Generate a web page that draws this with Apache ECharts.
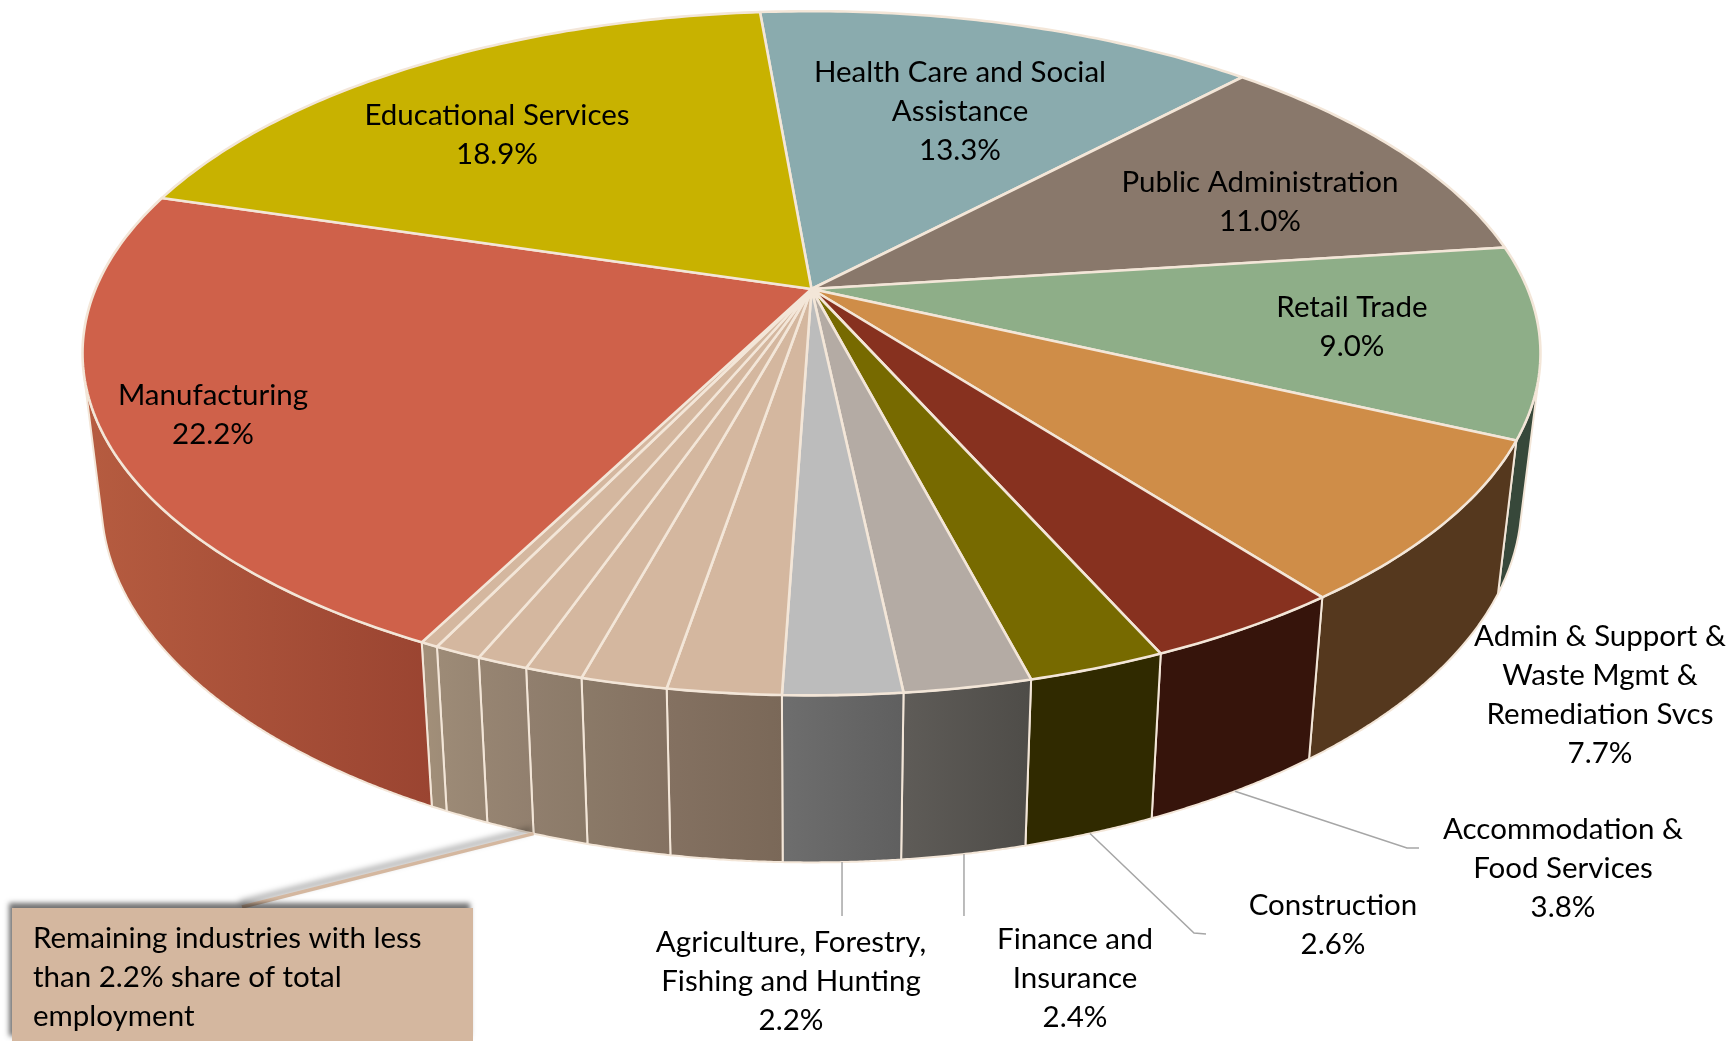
<!DOCTYPE html>
<html><head><meta charset="utf-8">
<style>html,body{margin:0;padding:0;background:#fff}#c{width:1731px;height:1041px}</style>
<script src="https://cdn.jsdelivr.net/npm/echarts@6/dist/echarts.min.js"></script>
</head><body><div id="c"></div>
<script>
// ---- data (clockwise from the Educational / Health boundary)
const categories = ['Health Care and Social\nAssistance','Public Administration','Retail Trade',
  'Admin & Support &\nWaste Mgmt &\nRemediation Svcs','Accommodation &\nFood Services','Construction',
  'Finance and\nInsurance','Agriculture, Forestry,\nFishing and Hunting',
  'Remaining 1','Remaining 2','Remaining 3','Remaining 4','Remaining 5','Remaining 6',
  'Manufacturing','Educational Services'];
const shares = [13.34,10.96,9.0,7.67,3.76,2.58,2.37,2.2,2.1,1.6,1.08,0.96,0.88,0.33,22.2,18.94];
const showLabel = [1,1,1,1,1,1,1,1,0,0,0,0,0,0,1,1];
const calloutText = 'Remaining industries with less\nthan 2.2% share of total\nemployment';

// ---- styles
const topColors = ['#8aabae','#89786b','#8eae88','#cf8d48','#87311f','#776a00','#b4aba4','#bcbcbc',
  '#d4b79f','#d4b79f','#d4b79f','#d4b79f','#d4b79f','#d4b79f','#cf614a','#c8b200'];
const wallColors = [['#5c7274','#5c7274'],['#5b5048','#5b5048'],['#37483a','#37483a'],['#55381e','#55381e'],
  ['#36140b','#36140b'],['#302a00','#302a00'],['#5f5c58','#4e4c48'],['#6e6e6e','#5f5f5f'],
  ['#847161','#7a6858'],['#8b7a68','#847161'],['#917f6e','#8b7a68'],['#978572','#917f6e'],
  ['#9d8b77','#978572'],['#a39079','#9d8b77'],['#b65c40','#9a4431'],['#857700','#857700']];
const edge = '#f3e6d8';
const FONT = 'Lato, "Open Sans", sans-serif';
const FS = 29.5, LH = 39;

// ---- layout: perspective disc
const geo = {cx:811.5, cy:289, R:716, Rv:330, k:0.1879, start:-4.9,
             wallX:0.974, wallY0:440, wallY1:593, wallK:1.055};
// label centres by category index
const labelAt = [[960,111],[1260,202],[1352,327],[1600,695],[1563,868],[1333,925],[1075,978],[791,981],
  null,null,null,null,null,null,[213,415],[497,135]];
// leader points after the wall anchor (null x: straight down from the anchor)
const leaderEnd = [null,null,null,null,[[1407,848],[1419,848]],[[1194,933],[1206,934]],[[null,916]],[[null,916]],
  null,null,null,null,null,null,null,null];
const calloutSliceEdge = 11;

function rim(deg){
  const t = deg*Math.PI/180, u = Math.sin(t), v = Math.cos(t), s = 1/(1+geo.k*v);
  return [geo.cx+geo.R*u*s, geo.cy-geo.Rv*v*s];
}
function low(p){
  return [geo.cx+(p[0]-geo.cx)*geo.wallX, geo.wallY1+(p[1]-geo.wallY0)*geo.wallK];
}
const total = shares.reduce((a,b)=>a+b,0);
function angleAt(idx){
  let c = 0; for(let i=0;i<idx;i++) c += shares[i];
  return geo.start + c/total*360;
}
function arc(idx,step){
  const a0 = angleAt(idx), a1 = angleAt(idx+1), n = Math.max(2,Math.ceil((a1-a0)/step)), pts=[];
  for(let i=0;i<=n;i++) pts.push(a0+(a1-a0)*i/n);
  return pts;
}
function faces(deg){
  const p = rim(deg), q = rim(deg+0.05), l = low(p);
  const tx = q[0]-p[0], ty = q[1]-p[1], dx = l[0]-p[0], dy = l[1]-p[1];
  return tx*dy-ty*dx < 0;
}
const seriesData = shares.map((v,i)=>({name:categories[i],value:[i,v]}));

function renderWall(params,api){
  const i = api.value(0);
  const top = arc(i,0.2).filter(faces).map(rim);
  if(top.length<2) return {type:'group',children:[]};
  const bottom = top.map(low);
  return {type:'polygon', shape:{points:top.concat(bottom.slice().reverse())},
    style:{fill:{type:'linear',x:0,y:0,x2:1,y2:0,colorStops:[{offset:0,color:wallColors[i][0]},{offset:1,color:wallColors[i][1]}]},
           stroke:edge,lineWidth:2,lineJoin:'round'}};
}
function renderTop(params,api){
  const i = api.value(0);
  return {type:'polygon', shape:{points:[[geo.cx,geo.cy]].concat(arc(i,0.75).map(rim))},
    style:{fill:topColors[i],stroke:edge,lineWidth:2.6,lineJoin:'round'}};
}
function renderLabel(params,api){
  const i = api.value(0), kids=[];
  if(leaderEnd[i]){
    const start = low(rim((angleAt(i)+angleAt(i+1))/2));
    const rest = leaderEnd[i].map(e=>[e[0]===null?start[0]:e[0],e[1]]);
    kids.push({type:'polyline',shape:{points:[start].concat(rest)},
      style:{fill:null,stroke:'#a6a6a6',lineWidth:1.5}});
  }
  if(showLabel[i]){
    kids.push({type:'text',style:{text:categories[i]+'\n'+api.value(1).toFixed(1)+'%',
      x:labelAt[i][0],y:labelAt[i][1],align:'center',verticalAlign:'middle',
      font:FS+'px '+FONT,fontSize:FS,fontFamily:FONT,lineHeight:LH,fill:'#000'}});
  }
  return {type:'group',children:kids};
}
const calloutAnchor = low(rim(angleAt(calloutSliceEdge)));
const chart = echarts.init(document.getElementById('c'),null,{width:1731,height:1041});
chart.setOption({
  animation:false, backgroundColor:'#fff',
  series:[
    {type:'custom',name:'wall',coordinateSystem:'none',renderItem:renderWall,data:seriesData,z:1,silent:true},
    {type:'custom',name:'Share of total employment',coordinateSystem:'none',renderItem:renderTop,data:seriesData,z:2,silent:true},
    {type:'custom',name:'labels',coordinateSystem:'none',renderItem:renderLabel,data:seriesData,z:3,silent:true}
  ],
  graphic:[
    {type:'line',z:4,shape:{x1:242,y1:907,x2:calloutAnchor[0],y2:calloutAnchor[1]},
      style:{stroke:'#d4b79f',lineWidth:3.5,shadowBlur:6,shadowOffsetX:-2,shadowOffsetY:-4,shadowColor:'rgba(0,0,0,0.5)'}},
    {type:'rect',z:5,shape:{x:12,y:908,width:461,height:133},
      style:{fill:'#d4b79f',shadowBlur:5,shadowOffsetX:-3,shadowOffsetY:-5,shadowColor:'rgba(0,0,0,0.55)'}},
    {type:'text',z:6,style:{text:calloutText,x:33,y:977,align:'left',verticalAlign:'middle',
      font:FS+'px '+FONT,fontSize:FS,fontFamily:FONT,lineHeight:LH,fill:'#000'}}
  ]
});
</script></body></html>
